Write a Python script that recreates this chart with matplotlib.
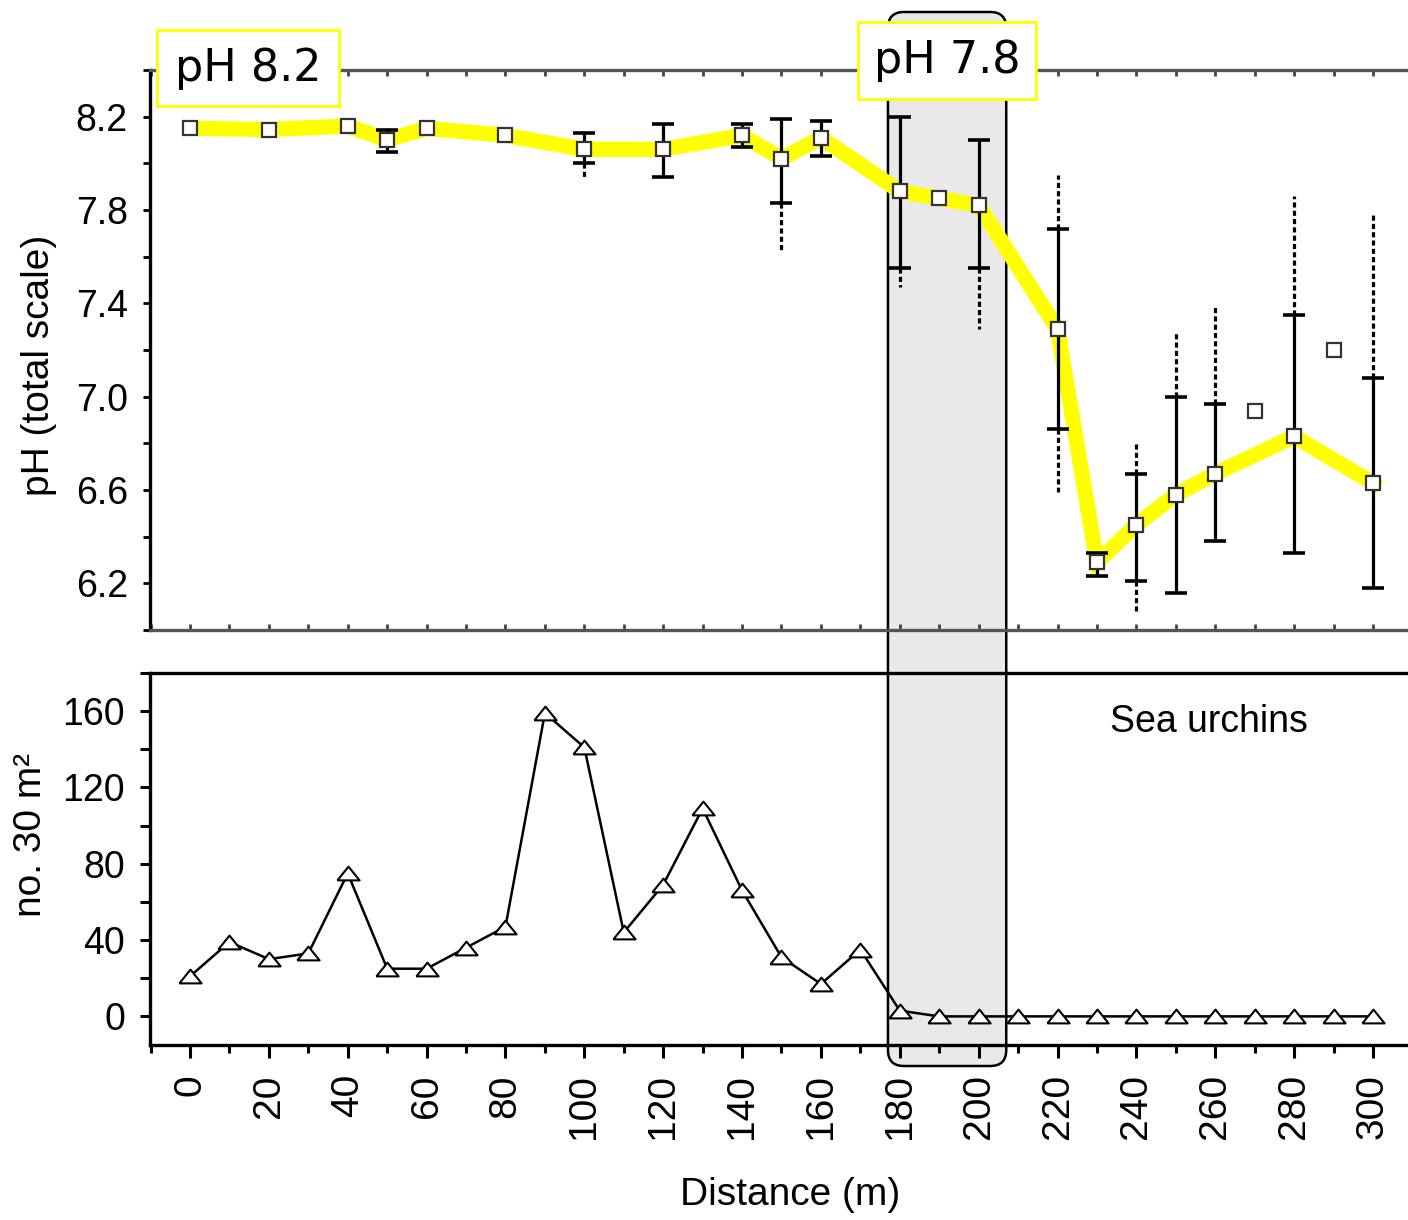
import numpy as np
import matplotlib.pyplot as plt
from matplotlib.patches import FancyBboxPatch, Rectangle
from matplotlib.ticker import FixedLocator, MultipleLocator
from matplotlib.transforms import IdentityTransform

plt.rcParams['font.family'] = ['Liberation Sans', 'DejaVu Sans']

nan = np.nan

# pH along the transect (points joined by the yellow line)
ph_x = [0, 20, 40, 50, 60, 80, 100, 120, 140, 150, 160, 180, 190, 200,
        220, 230, 240, 250, 260, 280, 300]
ph_mean = [8.15, 8.145, 8.16, 8.10, 8.15, 8.12, 8.06, 8.06, 8.12, 8.02, 8.11,
           7.88, 7.85, 7.82, 7.29, 6.29, 6.45, 6.58, 6.67, 6.83, 6.63]

# stations plotted but not on the line
ph_extra_x = [270, 290]
ph_extra = [6.94, 7.20]

# solid bars (with caps) and dashed extensions beyond them
err_x = [50, 100, 120, 140, 150, 160, 180, 200, 220, 230, 240, 250, 260, 280, 300]
err_hi = [8.145, 8.13, 8.17, 8.17, 8.19, 8.18, 8.20, 8.10, 7.72, 6.33, 6.67, 7.00, 6.97, 7.35, 7.08]
err_lo = [8.05, 8.00, 7.94, 8.07, 7.83, 8.03, 7.55, 7.55, 6.86, 6.23, 6.21, 6.16, 6.38, 6.33, 6.18]
range_hi = [nan, nan, nan, nan, nan, nan, nan, nan, 7.95, nan, 6.80, 7.28, 7.39, 7.86, 7.79]
range_lo = [nan, 7.94, nan, nan, 7.62, nan, 7.47, 7.29, 6.59, nan, 6.08, nan, nan, nan, nan]

# sea urchin counts
urchin_x = [0, 10, 20, 30, 40, 50, 60, 70, 80, 90, 100, 110, 120, 130, 140, 150,
            160, 170, 180, 190, 200, 210, 220, 230, 240, 250, 260, 270, 280, 290, 300]
urchin_n = [21, 39, 30, 33, 75, 25, 25, 36, 47, 159, 141, 44, 69, 109, 66, 31,
            17, 35, 3, 0, 0, 0, 0, 0, 0, 0, 0, 0, 0, 0, 0]

shade_x = (177, 207)
ph_ticks = [6.2, 6.6, 7.0, 7.4, 7.8, 8.2]
dist_ticks = [0, 20, 40, 60, 80, 100, 120, 140, 160, 180, 200, 220, 240, 260, 280, 300]

W, H = 1408, 1220
fig = plt.figure(figsize=(W / 100, H / 100), dpi=100)
fig.patch.set_facecolor('white')

xlim = (-10.15, 309.9)
ax1 = fig.add_axes([150 / W, 1 - 630 / H, 1262 / W, 560 / H])
ax2 = fig.add_axes([150 / W, 1 - 1045 / H, 1262 / W, 372 / H])
for ax in (ax1, ax2):
    ax.set_facecolor('none')
    ax.set_xlim(*xlim)

# ---- top panel: pH
ax1.set_ylim(6.0, 8.4)
ax1.plot(ph_x, ph_mean, color='#ffff00', lw=11, solid_joinstyle='miter', zorder=2)
ax1.vlines(err_x, err_lo, err_hi, color='black', lw=2.3, zorder=3)
ax1.plot(err_x, err_hi, ls='none', marker='_', ms=16, mew=2.6, color='black', zorder=3)
ax1.plot(err_x, err_lo, ls='none', marker='_', ms=16, mew=2.6, color='black', zorder=3)
ax1.vlines(err_x, err_hi, range_hi, color='black', lw=2.3, linestyles=(0, (1.6, 1.0)), zorder=3)
ax1.vlines(err_x, err_lo, range_lo, color='black', lw=2.3, linestyles=(0, (1.6, 1.0)), zorder=3)
ax1.plot(ph_x, ph_mean, ls='none', marker='s', ms=9.5, mfc='white', mec='#333333', mew=1.6, zorder=4)
ax1.plot(ph_extra_x, ph_extra, ls='none', marker='s', ms=9.5, mfc='white', mec='#333333', mew=1.6, zorder=4)

ax1.yaxis.set_major_locator(FixedLocator(ph_ticks))
ax1.yaxis.set_minor_locator(MultipleLocator(0.2))
ax1.xaxis.set_major_locator(MultipleLocator(10))
ax1.tick_params(axis='y', which='both', direction='out', length=5, width=2, pad=11, labelsize=27)
ax1.tick_params(axis='x', which='both', direction='in', length=4, width=2, top=True, bottom=True,
                labelbottom=False, color='#444444')
ax1.spines['right'].set_visible(False)
ax1.spines['left'].set_linewidth(2.4)
for s in ('top', 'bottom'):
    ax1.spines[s].set_linewidth(2.4)
    ax1.spines[s].set_color('#555555')
ax1.set_ylabel('pH (total scale)', fontsize=28)
ax1.yaxis.set_label_coords(-0.074, 0.473)

# ---- bottom panel: sea urchins
flat_tri = [(-1, -0.62), (1, -0.62), (0, 0.62), (-1, -0.62)]
ax2.set_ylim(-15, 180)
ax2.plot(urchin_x, urchin_n, color='black', lw=1.8, marker=flat_tri, ms=16, mfc='white',
         mec='black', mew=1.5, zorder=3)
ax2.yaxis.set_major_locator(FixedLocator([0, 40, 80, 120, 160]))
ax2.yaxis.set_minor_locator(MultipleLocator(20))
ax2.xaxis.set_major_locator(FixedLocator(dist_ticks))
ax2.xaxis.set_minor_locator(MultipleLocator(10))
ax2.tick_params(axis='y', which='both', direction='out', length=7, width=2.2, pad=11, labelsize=27)
ax2.tick_params(axis='x', which='major', direction='out', length=9, width=2.2, pad=12,
                labelsize=28, labelrotation=90)
ax2.tick_params(axis='x', which='minor', direction='out', length=6, width=2.2)
for s in ax2.spines.values():
    s.set_linewidth(2.4)
ax2.set_ylabel('no. 30 m²', fontsize=28)
ax2.yaxis.set_label_coords(-0.080, 0.565)
ax2.text(0.839, 0.868, 'Sea urchins', transform=ax2.transAxes, fontsize=27, ha='center', va='center')

fig.text(790 / W, 1 - 1195 / H, 'Distance (m)', fontsize=28, ha='center', va='center')

# ---- shaded band spanning both panels
fig.canvas.draw()
x0 = ax1.transData.transform((shade_x[0], 0))[0]
x1 = ax1.transData.transform((shade_x[1], 0))[0]
band = FancyBboxPatch((x0, H - 1066), x1 - x0, 1066 - 12,
                      boxstyle='round,pad=0,rounding_size=16',
                      transform=IdentityTransform(), facecolor='#e9e9e9',
                      edgecolor='black', lw=1.8, zorder=-1)
fig.add_artist(band)

# ---- pH labels in yellow boxes
for (bx0, by0, bx1, by1, label) in [(157, 30, 339, 106, 'pH 8.2'), (858, 22, 1036, 99, 'pH 7.8')]:
    fig.add_artist(Rectangle((bx0, H - by1), bx1 - bx0, by1 - by0, transform=IdentityTransform(),
                             facecolor='white', edgecolor='#ffff00', lw=2, zorder=5))
    fig.text((bx0 + bx1) / 2, H - (by0 + by1) / 2, label, transform=IdentityTransform(),
             fontsize=32, family=['DejaVu Sans'], ha='center', va='center', zorder=6)

fig.savefig('out.png', dpi=100)
